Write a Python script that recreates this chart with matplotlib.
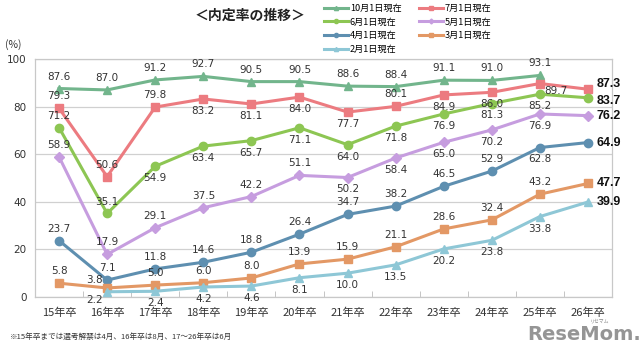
import matplotlib
matplotlib.use("Agg")
import matplotlib.pyplot as plt
import numpy as np

plt.rcParams['font.family'] = ['Noto Sans CJK JP', 'DejaVu Sans']

categories = ["15年卒", "16年卒", "17年卒", "18年卒", "19年卒", "20年卒",
              "21年卒", "22年卒", "23年卒", "24年卒", "25年卒", "26年卒"]

oct1 = [87.6, 87.0, 91.2, 92.7, 90.5, 90.5, 88.6, 88.4, 91.1, 91.0, 93.1, None]
jul1 = [79.3, 50.6, 79.8, 83.2, 81.1, 84.0, 77.7, 80.1, 84.9, 86.0, 89.7, 87.3]
jun1 = [71.2, 35.1, 54.9, 63.4, 65.7, 71.1, 64.0, 71.8, 76.9, 81.3, 85.2, 83.7]
may1 = [58.9, 17.9, 29.1, 37.5, 42.2, 51.1, 50.2, 58.4, 65.0, 70.2, 76.9, 76.2]
apr1 = [23.7, 7.1, 11.8, 14.6, 18.8, 26.4, 34.7, 38.2, 46.5, 52.9, 62.8, 64.9]
mar1 = [5.8, 3.8, 5.0, 6.0, 8.0, 13.9, 15.9, 21.1, 28.6, 32.4, 43.2, 47.7]
feb1 = [None, 2.2, 2.4, 4.2, 4.6, 8.1, 10.0, 13.5, 20.2, 23.8, 33.8, 39.9]

series_names = ["10月1日現在", "7月1日現在", "6月1日現在", "5月1日現在",
                "4月1日現在", "3月1日現在", "2月1日現在"]
series_values = [oct1, jul1, jun1, may1, apr1, mar1, feb1]
colors = ["#72b58c", "#ec7b80", "#8dc653", "#c69ddf", "#5e8fb0", "#e39865", "#8ec7d6"]
markers = ["^", "s", "o", "D", "o", "s", "^"]
msizes = [6, 6, 6, 5, 6, 6, 6]
end_dy = [0, 3.5, -2.5, 0, 0, 0, 0]

# label placement: a=above, b=below, r=right-below, l=left-below, k=left-above
placements = [
    "aaaaaaaaaaa-",
    "aaabbbbabbr-",
    "aabbbbbbbbb-",
    "aaaaaabbbbb-",
    "aaaaaaaaaab-",
    "akaaaaaaaaa-",
    "-lbbbbbbbbb-",
]

fig = plt.figure(figsize=(6.4, 3.47), dpi=100)
ax = fig.add_axes([35/640, 1-297/347, 577/640, 238/347])

x = np.arange(len(categories))
for vals, name, c, m, ms, pl, edy in zip(series_values, series_names, colors, markers,
                                         msizes, placements, end_dy):
    xs = [xi for xi, v in zip(x, vals) if v is not None]
    ys = [v for v in vals if v is not None]
    ax.plot(xs, ys, color=c, lw=2.2, marker=m, ms=ms, label=name, zorder=3,
            markeredgecolor=c)
    for xi, v in zip(x, vals):
        if v is None:
            continue
        p = pl[xi]
        if xi == len(categories) - 1:
            ax.annotate(f"{v:.1f}", (xi, v), xytext=(6, edy), textcoords="offset points",
                        ha="left", va="center", fontsize=9, fontweight="bold",
                        color="#111111", family=["Liberation Sans", "DejaVu Sans"],
                        annotation_clip=False, zorder=5)
            continue
        if p == "a":
            off, ha, va = (0, 5), "center", "bottom"
        elif p == "b":
            off, ha, va = (0, -5), "center", "top"
        elif p == "r":
            off, ha, va = (3, -2), "left", "top"
        elif p == "l":
            off, ha, va = (-3, -2), "right", "top"
        elif p == "k":
            off, ha, va = (-3, 2), "right", "bottom"
        else:
            continue
        ax.annotate(f"{v:.1f}", (xi, v), xytext=off, textcoords="offset points",
                    ha=ha, va=va, fontsize=7.5, color="#333333",
                    family=["DejaVu Sans"], zorder=4)

ax.set_xlim(-0.5, len(categories) - 0.5)
ax.set_ylim(0, 100)
ax.set_yticks([0, 20, 40, 60, 80, 100])
ax.set_yticklabels(["0", "20", "40", "60", "80", "100"], fontsize=7.5, color="#333333",
                   family=["DejaVu Sans"])
ax.set_xticks(x)
ax.set_xticklabels(categories, fontsize=8, color="#333333")
ax.set_xticks(np.arange(-0.5, len(categories), 1), minor=True)
ax.tick_params(axis="x", which="major", length=0, pad=8)
ax.tick_params(axis="x", which="minor", length=4, direction="in", color="#bbbbbb")
ax.tick_params(axis="y", length=0, pad=6)
ax.grid(axis="y", color="#d0d0d0", lw=0.9, zorder=0)
for s in ax.spines.values():
    s.set_color("#c8c8c8")
    s.set_linewidth(0.9)

fig.text(5/640, 1-45/347, "(%)", fontsize=7.5, color="#333333", va="center")
fig.text(250/640, 1-16/347, "＜内定率の推移＞", fontsize=10, fontweight="bold",
         color="#222222", ha="center", va="center")

# legend (row-wise like reference: column 1 = 10,6,4,2 ; column 2 = 7,5,3)
handles, labels = ax.get_legend_handles_labels()
order = [0, 2, 4, 6, 1, 3, 5]
leg = fig.legend([handles[i] for i in order], [labels[i] for i in order],
                 ncol=2, loc="upper left", bbox_to_anchor=(316/640, 1.012),
                 frameon=False, fontsize=6.6, handlelength=2.6, columnspacing=1.9,
                 labelspacing=0.5, handletextpad=0.2, markerscale=0.5)

fig.text(10/640, 1-337/347, "※15年卒までは選考解禁は4月、16年卒は8月、17～26年卒は6月",
         fontsize=5.5, color="#333333", va="center")
fig.text(600/640, 1-321/347, "リセマム", fontsize=3.5, color="#888888", ha="center", va="center")
fig.text(584/640, 1-334/347, "ReseMom.", fontsize=14, fontweight="bold", color="#8a8a8a",
         ha="center", va="center", family=["DejaVu Sans"], alpha=0.9)

fig.savefig("out.png", dpi=100)
